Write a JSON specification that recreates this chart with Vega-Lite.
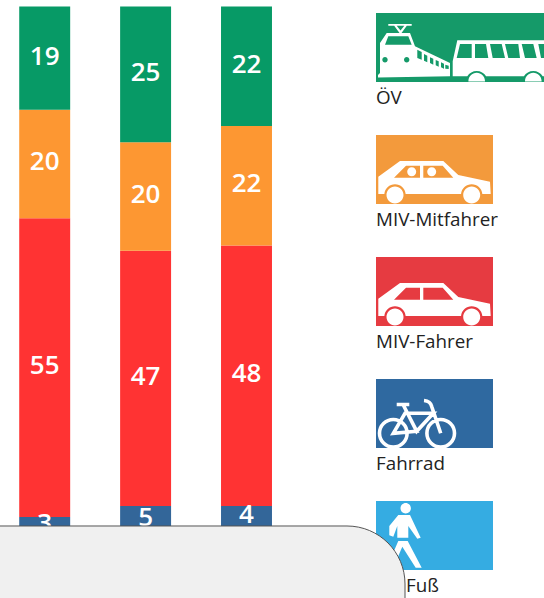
{
"$schema":"https://vega.github.io/schema/vega-lite/v6.json",
"width":544,"height":598,"padding":0,"autosize":{"type":"none"},
"background":"#ffffff",
"config":{"view":{"stroke":null}},
"datasets":{
"anteile":[
{"spalte":"Spalte 1","modus":"Fuß","rang":1,"anteil":3},
{"spalte":"Spalte 1","modus":"Fahrrad","rang":2,"anteil":3},
{"spalte":"Spalte 1","modus":"MIV-Fahrer","rang":3,"anteil":55},
{"spalte":"Spalte 1","modus":"MIV-Mitfahrer","rang":4,"anteil":20},
{"spalte":"Spalte 1","modus":"ÖV","rang":5,"anteil":19},
{"spalte":"Spalte 2","modus":"Fuß","rang":1,"anteil":3},
{"spalte":"Spalte 2","modus":"Fahrrad","rang":2,"anteil":5},
{"spalte":"Spalte 2","modus":"MIV-Fahrer","rang":3,"anteil":47},
{"spalte":"Spalte 2","modus":"MIV-Mitfahrer","rang":4,"anteil":20},
{"spalte":"Spalte 2","modus":"ÖV","rang":5,"anteil":25},
{"spalte":"Spalte 3","modus":"Fuß","rang":1,"anteil":4},
{"spalte":"Spalte 3","modus":"Fahrrad","rang":2,"anteil":4},
{"spalte":"Spalte 3","modus":"MIV-Fahrer","rang":3,"anteil":48},
{"spalte":"Spalte 3","modus":"MIV-Mitfahrer","rang":4,"anteil":22},
{"spalte":"Spalte 3","modus":"ÖV","rang":5,"anteil":22}
],
"modi":[{"modus":"ÖV"},{"modus":"MIV-Mitfahrer"},{"modus":"MIV-Fahrer"},{"modus":"Fahrrad"},{"modus":"Fuß"}]
},
"layer":[
{"data":{"name":"anteile"},"mark":{"type":"bar","width":{"band":0.505}},
"encoding":{
"x":{"field":"spalte","type":"nominal","axis":null,"scale":{"type":"band","domain":["Spalte 1","Spalte 2","Spalte 3"],"range":[-5.75,296.95],"paddingInner":0,"paddingOuter":0}},
"y":{"field":"anteil","type":"quantitative","stack":"zero","axis":null,"scale":{"domain":[-8.932,101.197],"range":[598,0],"nice":false,"zero":false}},
"order":{"field":"rang","type":"ordinal"},
"color":{"field":"modus","type":"nominal","legend":null,"scale":{"domain":["ÖV","MIV-Mitfahrer","MIV-Fahrer","Fahrrad","Fuß"],"range":["#079a66","#fd9732","#ff3333","#336699","#35abe1"]}}
}},
{"data":{"name":"anteile"},"mark":{"type":"text","color":"#ffffff","font":"Open Sans","fontSize":26,"fontWeight":600,"baseline":"middle","align":"center","dy":-1.5},
"encoding":{
"x":{"field":"spalte","type":"nominal","axis":null,"scale":{"type":"band","domain":["Spalte 1","Spalte 2","Spalte 3"],"range":[-5.75,296.95],"paddingInner":0,"paddingOuter":0}},
"y":{"field":"anteil","type":"quantitative","stack":"zero","bandPosition":0.5,"axis":null,"scale":{"domain":[-8.932,101.197],"range":[598,0],"nice":false,"zero":false}},
"order":{"field":"rang","type":"ordinal"},
"detail":{"field":"modus","type":"nominal"},
"text":{"condition":{"test":"datum.modus === 'Fuß'","value":""},"field":"anteil","type":"quantitative"}
}},
{"data":{"name":"modi"},"transform":[{"filter":"datum.modus === 'ÖV'"}],"mark":{"type":"rect","height":69},
"encoding":{
"x":{"datum":0,"type":"quantitative","axis":null,"scale":{"domain":[0,168],"range":[376,544],"zero":false,"nice":false}},
"x2":{"datum":168},
"y":{"field":"modus","type":"nominal","axis":null,"scale":{"type":"band","domain":["ÖV","MIV-Mitfahrer","MIV-Fahrer","Fahrrad","Fuß"],"range":[-13.5,596.5],"paddingInner":0,"paddingOuter":0}},
"color":{"field":"modus","type":"nominal","legend":null,"scale":{"domain":["ÖV","MIV-Mitfahrer","MIV-Fahrer","Fahrrad","Fuß"],"range":["#159a69","#f39a3c","#e63b41","#2f69a0","#35ace2"]}}
}},
{"data":{"name":"modi"},"transform":[{"filter":"datum.modus !== 'ÖV'"}],"mark":{"type":"rect","height":69},
"encoding":{
"x":{"datum":0,"type":"quantitative","axis":null,"scale":{"domain":[0,168],"range":[376,544],"zero":false,"nice":false}},
"x2":{"datum":117},
"y":{"field":"modus","type":"nominal","axis":null,"scale":{"type":"band","domain":["ÖV","MIV-Mitfahrer","MIV-Fahrer","Fahrrad","Fuß"],"range":[-13.5,596.5],"paddingInner":0,"paddingOuter":0}},
"color":{"field":"modus","type":"nominal","legend":null,"scale":{"domain":["ÖV","MIV-Mitfahrer","MIV-Fahrer","Fahrrad","Fuß"],"range":["#159a69","#f39a3c","#e63b41","#2f69a0","#35ace2"]}}
}},
{"data":{"name":"modi"},"transform":[{"filter":"datum.modus !== 'Fahrrad'"}],"mark":{"type":"point","filled":true,"fill":"#ffffff","opacity":1,"size":4,"strokeWidth":0},
"encoding":{
"x":{"datum":0,"type":"quantitative","axis":null,"scale":{"domain":[0,168],"range":[376,544],"zero":false,"nice":false}},
"y":{"field":"modus","type":"nominal","axis":null,"scale":{"type":"band","domain":["ÖV","MIV-Mitfahrer","MIV-Fahrer","Fahrrad","Fuß"],"range":[-13.5,596.5],"paddingInner":0,"paddingOuter":0}},
"shape":{"field":"modus","type":"nominal","legend":null,"scale":{"domain":["ÖV","MIV-Mitfahrer","MIV-Fahrer","Fuß"],"range":[
"M4,25.5L4,-4.5L10.7,-14.5L34,-14.5L39,-1.2L74,15.5L74,28.8L2,30L2,27.5ZM9,-2.8L35.7,-2.8L32.3,-11.2L12.3,-11.2ZM6.3,12.2a2.7,2.7 0 1 0 5.4,0a2.7,2.7 0 1 0 -5.4,0ZM28,12.2a2.7,2.7 0 1 0 5.4,0a2.7,2.7 0 1 0 -5.4,0ZM41.3,10.5L45.7,12.2L45.7,4.5L41.3,2.2ZM48,13.2L51.3,14.8L51.3,8.2L48,6.5ZM54,15.5L57.3,17.2L57.3,11.2L54,9.8ZM59.7,17.8L62.7,19.2L62.7,13.8L59.7,12.5ZM65,19.8L68,21.2L68,16.2L65,14.8ZM69.3,21.2L72.7,21.5L72.7,18.2L69.3,17.2ZM12.3,-23.5L35.7,-23.5L35.7,-21.7L12.3,-21.7ZM18,-22L20.5,-22L24.5,-17L28.5,-22L31,-22L25.5,-14.5L23.5,-14.5ZM76.7,28.8L76.7,13.8L81.3,-7.2L190,-7.2L190,28.8L166.7,28.8A11,11 0 0 0 147.9,28.8L110.1,28.8A11,11 0 0 0 91.3,28.8ZM80.7,10.5L95.7,10.5L95.7,-3.5L84,-3.5ZM99,10.5L112.3,10.5L110,-3.5L99,-3.5ZM116.7,10.5L129,10.5L125.7,-3.5L114,-3.5ZM132.3,10.5L144,10.5L142.3,-3.5L129,-3.5ZM149,10.5L160.7,10.5L157.3,-3.5L145.7,-3.5ZM165,10.5L175,10.5L175,-3.5L162.3,-3.5ZM92.4,34L92.4,33.5A8.3,8.3 0 0 1 109,33.5L109,34ZM149,34L149,33.5A8.3,8.3 0 0 1 165.6,33.5L165.6,34Z",
"M2.3,24.5L2.3,7.2L24,-8.5L67.3,-8.5L82.3,5.5L114,12.2L114.7,24.5L106.35,24.5A10.7,10.7 0 0 0 85.05,24.5L29.65,24.5A10.7,10.7 0 0 0 8.35,24.5ZM18,8.2L44,8.2L44,-3.8L30,-3.8ZM47.3,8.2L77.3,8.2L66.7,-3.8L47.3,-3.8ZM10.5,25.5a8.5,8.5 0 1 1 17,0a8.5,8.5 0 1 1 -17,0ZM87.2,25.5a8.5,8.5 0 1 1 17,0a8.5,8.5 0 1 1 -17,0ZM31.2,2.2a4.5,4.5 0 1 1 9,0a4.5,4.5 0 1 1 -9,0ZM51.2,2.2a4.5,4.5 0 1 1 9,0a4.5,4.5 0 1 1 -9,0Z",
"M2.3,24.5L2.3,7.2L24,-8.5L67.3,-8.5L82.3,5.5L114,12.2L114.7,24.5L106.35,24.5A10.7,10.7 0 0 0 85.05,24.5L29.65,24.5A10.7,10.7 0 0 0 8.35,24.5ZM18,8.2L44,8.2L44,-3.8L30,-3.8ZM47.3,8.2L77.3,8.2L66.7,-3.8L47.3,-3.8ZM10.5,25.5a8.5,8.5 0 1 1 17,0a8.5,8.5 0 1 1 -17,0ZM87.2,25.5a8.5,8.5 0 1 1 17,0a8.5,8.5 0 1 1 -17,0Z",
"M24.5,-27.2a5.2,5.2 0 1 1 10.4,0a5.2,5.2 0 1 1 -10.4,0ZM22.3,-20.5L34,-20.5L44.7,2.2L41.3,3.2L32.3,-9.5L32.3,2.2L21.3,2.2L21.3,-9.5L17.3,1.2L13.3,-0.2L13.3,-9.5ZM22.3,5.5L31.7,5.5L45.7,32.2L39.7,32.2L26.3,11.2L17.3,32.2L10.7,32.2Z"
]}}
}},
{"data":{"name":"modi"},"transform":[{"filter":"datum.modus === 'Fahrrad'"}],"mark":{"type":"point","filled":false,"stroke":"#ffffff","opacity":1,"size":4,"strokeWidth":3.6,
"shape":"M3.5,19.8a13.8,13.8 0 1 1 27.6,0a13.8,13.8 0 1 1 -27.6,0ZM50.9,19.8a13.8,13.8 0 1 1 27.6,0a13.8,13.8 0 1 1 -27.6,0ZM27.3,-8.5L40.7,17.8L17.3,19.8L29,-0.2L57.3,-0.2L40.7,17.8ZM64.7,19.8L55.7,-7Q54.5,-12.5 48,-13M20.7,-9L33.3,-9"},
"encoding":{
"x":{"datum":0,"type":"quantitative","axis":null,"scale":{"domain":[0,168],"range":[376,544],"zero":false,"nice":false}},
"y":{"field":"modus","type":"nominal","axis":null,"scale":{"type":"band","domain":["ÖV","MIV-Mitfahrer","MIV-Fahrer","Fahrrad","Fuß"],"range":[-13.5,596.5],"paddingInner":0,"paddingOuter":0}}
}},
{"data":{"name":"modi"},"transform":[{"filter":"datum.modus !== 'Fuß'"}],"mark":{"type":"text","font":"Open Sans","fontSize":18.8,"color":"#222222","align":"left","baseline":"middle","dy":50},
"encoding":{
"x":{"datum":0,"type":"quantitative","axis":null,"scale":{"domain":[0,168],"range":[376,544],"zero":false,"nice":false}},
"y":{"field":"modus","type":"nominal","axis":null,"scale":{"type":"band","domain":["ÖV","MIV-Mitfahrer","MIV-Fahrer","Fahrrad","Fuß"],"range":[-13.5,596.5],"paddingInner":0,"paddingOuter":0}},
"text":{"field":"modus","type":"nominal"}
}},
{"data":{"name":"modi"},"transform":[{"filter":"datum.modus === 'Fuß'"}],"mark":{"type":"text","font":"Open Sans","fontSize":18.8,"color":"#222222","align":"left","baseline":"middle","dy":50},
"encoding":{
"x":{"datum":30,"type":"quantitative","axis":null,"scale":{"domain":[0,168],"range":[376,544],"zero":false,"nice":false}},
"y":{"field":"modus","type":"nominal","axis":null,"scale":{"type":"band","domain":["ÖV","MIV-Mitfahrer","MIV-Fahrer","Fahrrad","Fuß"],"range":[-13.5,596.5],"paddingInner":0,"paddingOuter":0}},
"text":{"field":"modus","type":"nominal"}
}},
{"data":{"values":[{"flaeche":"Abdeckung"}]},"mark":{"type":"rect","fill":"#f0f0f0","stroke":"#555555","strokeWidth":1,"cornerRadiusTopRight":58},
"encoding":{
"x":{"datum":-500,"type":"quantitative","axis":null,"scale":{"domain":[0,168],"range":[376,544],"zero":false,"nice":false}},
"x2":{"datum":29},
"y":{"datum":4.33,"type":"quantitative","axis":null,"scale":{"domain":[-8.932,101.197],"range":[598,0],"nice":false,"zero":false}},
"y2":{"datum":-30}
}}
],
"resolve":{"scale":{"x":"independent","y":"independent","color":"independent","shape":"independent"}}
}
